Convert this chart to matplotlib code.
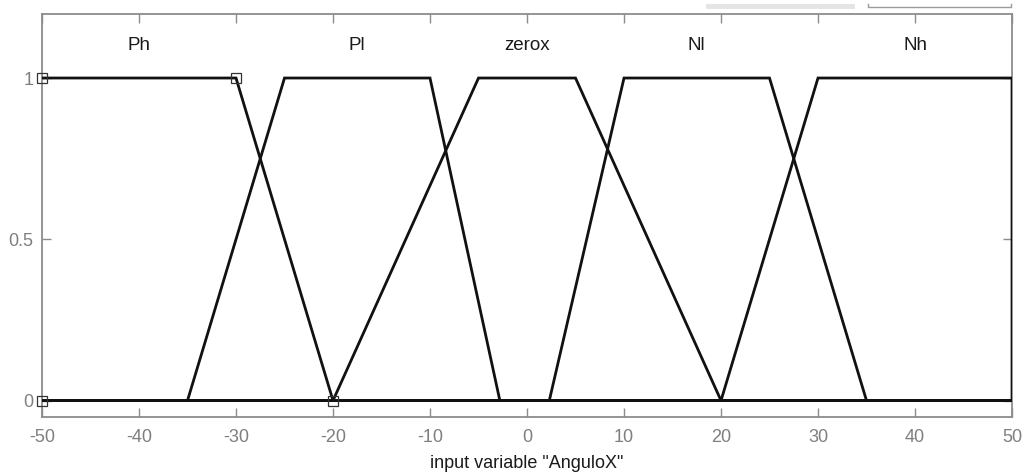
import matplotlib
matplotlib.use("Agg")
from matplotlib import pyplot as plt
from matplotlib.lines import Line2D

plt.rcParams["font.family"] = ["Liberation Sans", "DejaVu Sans"]
plt.rcParams["axes.unicode_minus"] = False

# input range of the variable
x_range = (-50, 50)

# membership functions: name, trapezoid corners (a, b, c, d)
mf_names = ["Ph", "Pl", "zerox", "Nl", "Nh"]
mf_params = [
    [-50, -50, -30, -20],
    [-35, -25, -10, -2.8],
    [-20, -5, 5, 20],
    [2.3, 10, 25, 35],
    [20, 30, 50, 50],
]
selected = 0  # Ph is the highlighted one (vertex squares)

x_ticks = [-50, -40, -30, -20, -10, 0, 10, 20, 30, 40, 50]
y_ticks = [0, 0.5, 1]
y_tick_labels = ["0", "0.5", "1"]

AXIS_GREY = "#8c8c8c"

fig = plt.figure(figsize=(10.27, 4.74), dpi=100)
ax = fig.add_axes([0.0409, 0.1209, 0.9445, 0.8506])


def trap_outline(p):
    a, b, c, d = p
    xs = [x_range[0], a, b, c, d, x_range[1]]
    ys = [0, 0, 1, 1, 0, 0]
    # drop corners that sit on the range edge
    pts = [(x, y) for x, y in zip(xs, ys) if x_range[0] <= x <= x_range[1]]
    if a <= x_range[0]:
        pts = [(x, y) for x, y in pts if not (x == x_range[0] and y == 0)]
        pts.insert(0, (x_range[0], 1))
    return [q[0] for q in pts], [q[1] for q in pts]


for name, p in zip(mf_names, mf_params):
    xs, ys = trap_outline(p)
    ax.plot(xs, ys, color="#111111", linewidth=2.0, solid_joinstyle="miter", zorder=3)
    a, b, c, d = p
    ax.text((b + c) / 2, 1.1, name, ha="center", va="center", fontsize=13.5, color="#1a1a1a")

# vertex squares of the selected function
a, b, c, d = mf_params[selected]
vx = [a, a, c, d]
vy = [0, 1, 1, 0]
ax.plot(vx, vy, linestyle="none", marker="s", markersize=6.5, markerfacecolor="none",
        markeredgecolor="#333333", markeredgewidth=0.9, zorder=4, clip_on=False)

ax.set_xlim(*x_range)
ax.set_ylim(-0.05, 1.2)
ax.set_xticks(x_ticks)
ax.set_yticks(y_ticks)
ax.set_yticklabels(y_tick_labels)
ax.tick_params(direction="in", length=6.5, width=1.0, color=AXIS_GREY, labelcolor="#7f7f7f",
               labelsize=13, top=True, right=True)
ax.tick_params(axis="x", pad=9)
ax.tick_params(axis="y", pad=6)
for s in ax.spines.values():
    s.set_color(AXIS_GREY)
    s.set_linewidth(1.3)
ax.set_xlabel('input variable "AnguloX"', fontsize=13, color="#1a1a1a", labelpad=6)

# bits of the surrounding panel peeking in at the top
fig.add_artist(Line2D([708 / 1027, 852 / 1027], [1 - 6 / 474, 1 - 6 / 474],
                      color="#e4e4e4", linewidth=3.5))
fig.add_artist(Line2D([868 / 1027, 868 / 1027, 1011 / 1027, 1011 / 1027],
                      [1 - 3.5 / 474, 1 - 7 / 474, 1 - 7 / 474, 1 - 3.5 / 474],
                      color="#9a9a9a", linewidth=1.0))

fig.savefig("out.png", dpi=100)
